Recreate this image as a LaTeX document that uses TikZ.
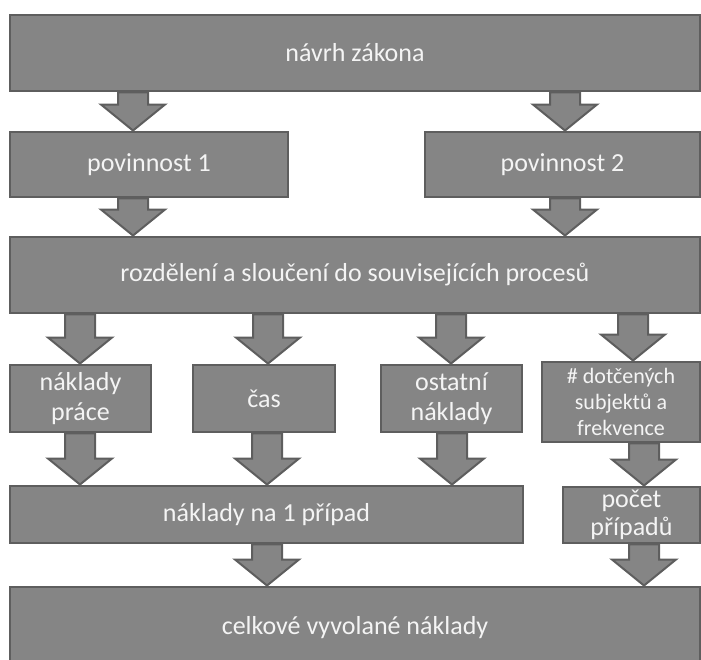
\documentclass[tikz,border=0pt]{standalone}
\usepackage{fontspec}
\setmainfont{Carlito}
\usetikzlibrary{calc}
\definecolor{boxgray}{HTML}{858585}
\definecolor{edgegray}{HTML}{5E5E5E}
\definecolor{textgray}{HTML}{F4F4F4}
\tikzset{
    blok/.style={draw=edgegray, fill=boxgray, line width=2.2pt, text=textgray,
        font=\fontsize{19.5}{22.5}\selectfont, align=center, inner sep=0pt},
    sipka/.style={draw=edgegray, fill=boxgray, line width=1.5pt, line join=miter},
}
% fat arrow: x position, upper node, lower node
\newcommand{\sipka}[3]{%
    \coordinate (s) at (#1,0 |- #2.south);
    \coordinate (t) at (#1,0 |- #3.north);
    \draw[sipka] ($(s)+(-15,0)$) -- ($(t)+(-15,-26)$) -- ($(t)+(-32,-26)$) -- (t)
        -- ($(t)+(32,-26)$) -- ($(t)+(15,-26)$) -- ($(s)+(15,0)$) -- cycle;
}
\begin{document}
\begin{tikzpicture}[x=0.75pt, y=-0.75pt]
            \useasboundingbox (0,0) rectangle (701,660);
            % boxes
            \node[blok, minimum width=690*0.75pt, minimum height=76*0.75pt] (navrh) at (355,53) {návrh zákona};
            \node[blok, minimum width=278*0.75pt, minimum height=65*0.75pt] (pov1) at (149,164.5) {povinnost 1};
            \node[blok, minimum width=275*0.75pt, minimum height=65*0.75pt] (pov2) at (562.5,164.5) {povinnost 2};
            \node[blok, minimum width=690*0.75pt, minimum height=76*0.75pt] (rozd) at (355,275) {rozdělení a sloučení do souvisejících procesů};
            \node[blok, minimum width=141*0.75pt, minimum height=67*0.75pt] (prace) at (80.5,398.5) {náklady\\práce};
            \node[blok, minimum width=142*0.75pt, minimum height=67*0.75pt] (cas) at (264,398.5) {čas};
            \node[blok, minimum width=141*0.75pt, minimum height=67*0.75pt] (ostatni) at (451.5,398.5) {ostatní\\náklady};
            \node[blok, minimum width=158*0.75pt, minimum height=80*0.75pt,
                font=\fontsize{16.5}{19.5}\selectfont] (dotc) at (621,402) {\# dotčených\\subjektů a\\frekvence};
            \node[blok, minimum width=513*0.75pt, minimum height=57*0.75pt] (pripad) at (266.5,514.5) {náklady na 1 případ};
            \node[blok, minimum width=137*0.75pt, minimum height=56*0.75pt,
                font=\fontsize{19.5}{21}\selectfont] (pocet) at (631.5,515) {počet\\případů};
            \node[blok, minimum width=690*0.75pt, minimum height=82*0.75pt] (celk) at (355,628) {celkové vyvolané náklady};
            % arrows
            \sipka{133}{navrh}{pov1}
            \sipka{565}{navrh}{pov2}
            \sipka{133}{pov1}{rozd}
            \sipka{565}{pov2}{rozd}
            \foreach \x/\n in {80/prace, 268/cas, 451/ostatni, 633/dotc}
            {
                \sipka{\x}{rozd}{\n}
            }
            \foreach \x/\n in {80/prace, 267/cas, 452/ostatni}
            {
                \sipka{\x}{\n}{pripad}
            }
            \sipka{644}{dotc}{pocet}
            \sipka{267}{pripad}{celk}
            \sipka{644}{pocet}{celk}
\end{tikzpicture}
\end{document}
